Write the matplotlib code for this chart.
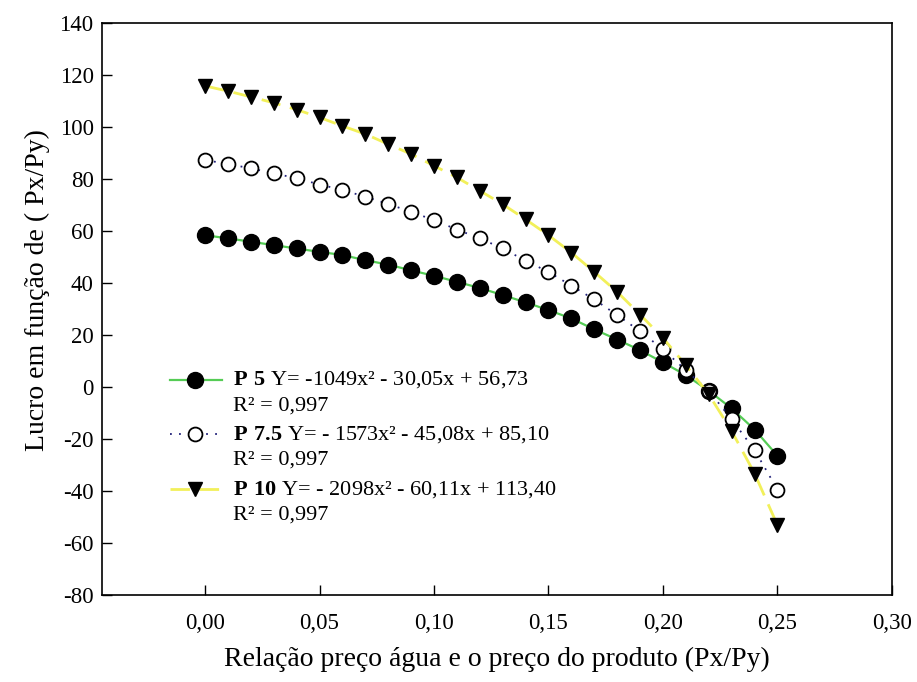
import numpy as np
import matplotlib
matplotlib.use("Agg")
import matplotlib.pyplot as plt
from matplotlib.lines import Line2D
from matplotlib.ticker import FuncFormatter, MultipleLocator

# Price ratio (Px/Py) and profit for each treatment
ratio = [0.00, 0.01, 0.02, 0.03, 0.04, 0.05, 0.06, 0.07, 0.08, 0.09,
         0.10, 0.11, 0.12, 0.13, 0.14, 0.15, 0.16, 0.17, 0.18, 0.19,
         0.20, 0.21, 0.22, 0.23, 0.24, 0.25]
p5 = [58.3, 57.1, 55.8, 54.5, 53.2, 51.9, 50.7, 48.7, 47.0, 44.8,
      42.7, 40.4, 38.0, 35.3, 32.5, 29.5, 26.3, 22.1, 18.2, 14.1,
      9.4, 4.5, -1.5, -8.3, -16.4, -26.5]
p75 = [87.2, 85.7, 84.0, 82.1, 80.2, 77.8, 75.7, 73.1, 70.3, 67.3,
       64.1, 60.5, 57.1, 53.2, 48.5, 44.2, 38.9, 33.6, 27.6, 21.4,
       14.4, 6.4, -1.5, -12.5, -24.3, -39.5]
p10 = [115.7, 113.7, 111.5, 109.2, 106.6, 103.6, 100.3, 97.2, 93.3, 89.5,
       85.0, 80.5, 75.4, 70.2, 64.4, 58.3, 51.6, 44.2, 36.5, 27.8,
       18.8, 8.3, -2.9, -17.0, -33.3, -53.2]

series_names = ["P 5", "P 7.5", "P 10"]
equations = ["Y= -1049x\u00b2 - 30,05x + 56,73",
             "Y= - 1573x\u00b2 - 45,08x + 85,10",
             "Y= - 2098x\u00b2 - 60,11x + 113,40"]
r2_labels = ["R\u00b2 = 0,997", "R\u00b2 = 0,997", "R\u00b2 = 0,997"]

plt.rcParams["font.family"] = ["Liberation Serif", "DejaVu Serif"]
plt.rcParams["mathtext.fontset"] = "custom"
plt.rcParams["mathtext.rm"] = "Liberation Serif"
plt.rcParams["mathtext.bf"] = "Liberation Serif:bold"

fig = plt.figure(figsize=(9.17, 6.82), dpi=100)
ax = fig.add_axes([0.1112, 0.1276, 0.8615, 0.8391])

styles = [
    dict(color="#55cc55", linestyle="-", linewidth=1.6,
         marker="o", markersize=11.5, markerfacecolor="black",
         markeredgecolor="black", markeredgewidth=1.0),
    dict(color="#22227a", linestyle=(0, (1, 4)), linewidth=1.3,
         marker="o", markersize=10, markerfacecolor="white",
         markeredgecolor="black", markeredgewidth=1.3),
    dict(color="#f2f05a", linestyle=(0, (7, 3.5)), linewidth=2.0,
         marker="v", markersize=10.5, markerfacecolor="black",
         markeredgecolor="black", markeredgewidth=1.0),
]

for vals, st in zip([p5, p75, p10], styles):
    ax.plot(ratio, vals, **st)

ax.set_xlim(-0.045, 0.30)
ax.set_ylim(-80, 140)
ax.xaxis.set_major_locator(MultipleLocator(0.05))
ax.yaxis.set_major_locator(MultipleLocator(20))
ax.xaxis.set_major_formatter(FuncFormatter(lambda v, p: f"{v:.2f}".replace(".", ",").replace("-0,00", "0,00")))
ax.yaxis.set_major_formatter(FuncFormatter(lambda v, p: f"{v:.0f}"))
ax.tick_params(direction="in", length=7, width=1.0, labelsize=16.5,
               top=False, right=False, colors="black")
ax.tick_params(axis="x", pad=13)
ax.tick_params(axis="y", pad=6)
for s in ax.spines.values():
    s.set_linewidth(1.2)
    s.set_color("black")

ax.set_xlabel("Relação preço água e o preço do produto (Px/Py)", fontsize=20, labelpad=9)
ax.set_ylabel("Lucro em função de ( Px/Py)", fontsize=20)
ax.yaxis.set_label_coords(-0.066, 0.533)

# Legend drawn with sample lines and two-line equation labels
leg_rows = [0.376, 0.281, 0.185]
for (name, eq, r2, st, yy) in zip(series_names, equations, r2_labels, styles, leg_rows):
    ln = Line2D([0.086, 0.152], [yy, yy], transform=ax.transAxes,
                color=st["color"], linestyle=st["linestyle"], linewidth=st["linewidth"])
    ax.add_line(ln)
    mk = Line2D([0.118], [yy], transform=ax.transAxes, linestyle="none",
                marker=st["marker"], markersize=st["markersize"],
                markerfacecolor=st["markerfacecolor"],
                markeredgecolor=st["markeredgecolor"],
                markeredgewidth=st["markeredgewidth"])
    ax.add_line(mk)
    ax.text(0.166, yy, r"$\mathbf{" + name.replace(" ", r"\ ") + r"}$ " + eq,
            transform=ax.transAxes, fontsize=16, va="center", ha="left")
    ax.text(0.166, yy - 0.045, r2, transform=ax.transAxes,
            fontsize=16, va="center", ha="left")

fig.savefig("out.png", dpi=100)
